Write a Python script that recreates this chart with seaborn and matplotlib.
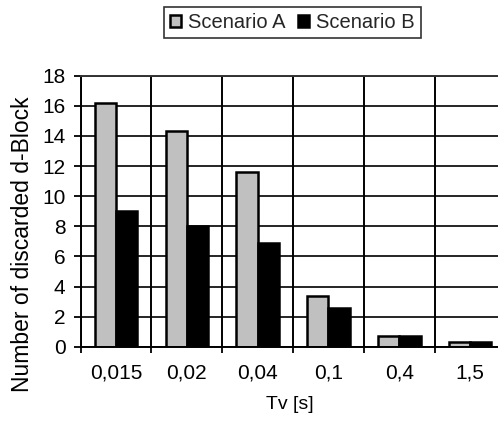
import numpy as np
import pandas as pd
import seaborn as sns
import matplotlib.pyplot as plt
from matplotlib.patches import Patch

# data
tv_labels = ["0,015", "0,02", "0,04", "0,1", "0,4", "1,5"]
scenario_a = [16.2, 14.3, 11.6, 3.4, 0.7, 0.35]
scenario_b = [9.0, 8.0, 6.9, 2.6, 0.7, 0.35]
series_names = ["Scenario A", "Scenario B"]
colors = ["#c0c0c0", "#000000"]

df = pd.DataFrame({
    "Tv": tv_labels * 2,
    "value": scenario_a + scenario_b,
    "scenario": [series_names[0]] * len(tv_labels) + [series_names[1]] * len(tv_labels),
})

sns.set_theme(style="white")
plt.rcParams["font.family"] = ["Liberation Sans", "DejaVu Sans"]

fig = plt.figure(figsize=(4.98, 4.25), dpi=100)
# the plot area runs a little past the right edge of the picture, like the reference
ax = fig.add_axes([0.162, 0.184, 0.853, 0.638])

sns.barplot(data=df, x="Tv", y="value", hue="scenario", order=tv_labels,
            hue_order=series_names, palette=colors, width=0.6,
            edgecolor="black", linewidth=1.8, ax=ax, legend=False)

ax.set_xlim(-0.5, len(tv_labels) - 0.5)
ax.set_ylim(0, 18)
ax.set_yticks(np.arange(0, 19, 2))
ax.set_xticks(np.arange(len(tv_labels)))
ax.set_xticks(np.arange(-0.5, len(tv_labels)), minor=True)
ax.tick_params(axis="x", which="major", length=0, labelsize=15, pad=12, colors="black")
ax.tick_params(axis="x", which="minor", length=4.5, width=1.3, direction="out", bottom=True, color="black")
ax.tick_params(axis="y", length=5, width=1.3, direction="out", left=True, labelsize=15,
               pad=6, color="black", labelcolor="black")

ax.set_axisbelow(True)
ax.yaxis.grid(True, color="black", linewidth=1.2)
ax.xaxis.grid(True, which="minor", color="black", linewidth=1.4)
ax.xaxis.grid(False, which="major")

for side in ["left", "bottom"]:
    ax.spines[side].set_color("black")
    ax.spines[side].set_linewidth(1.4)
ax.spines["top"].set_color("#333333")
ax.spines["top"].set_linewidth(1.4)
ax.spines["right"].set_visible(False)

ax.set_xlabel("Tv [s]", fontsize=14, color="black")
ax.xaxis.set_label_coords(0.493, -0.183)
ax.set_ylabel("Number of discarded d-Block", fontsize=16.5, color="black")
ax.yaxis.set_label_coords(-0.11, 0.379)

handles = [Patch(facecolor=c, edgecolor="black", linewidth=1.8) for c in colors]
leg = fig.legend(handles, series_names, loc="center", bbox_to_anchor=(0.587, 0.947),
                 ncol=2, fontsize=14.5, frameon=True, fancybox=False,
                 handlelength=0.55, handleheight=0.55, handletextpad=0.35,
                 columnspacing=0.6, borderpad=0.3, borderaxespad=0)
leg.get_frame().set_edgecolor("black")
leg.get_frame().set_linewidth(1.2)

fig.savefig("out.png", dpi=100)
